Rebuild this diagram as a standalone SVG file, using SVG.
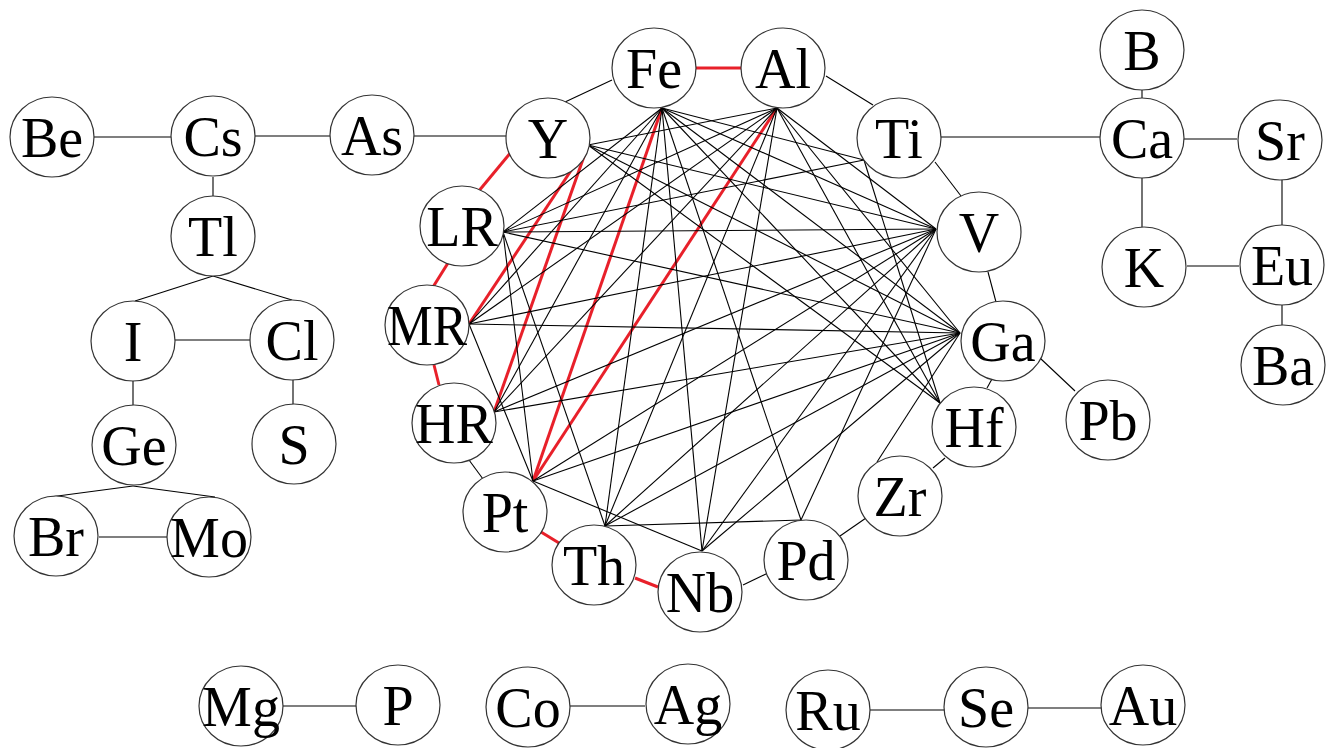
<svg xmlns="http://www.w3.org/2000/svg" width="1334" height="748" viewBox="0 0 1334 748">
<style>
.n ellipse{fill:#fff;stroke:#333;stroke-width:1.2}
.n text{font-family:"Liberation Serif","Times New Roman",serif;font-size:56px;text-anchor:middle;fill:#000}
.e line{stroke:#000;stroke-width:1.1}
.e line.r{stroke:#e8202a;stroke-width:3}
</style>
<rect width="1334" height="748" fill="#fff"/>
<g class="e" id="connectors">
<line x1="93" y1="137" x2="172" y2="137"/>
<line x1="255" y1="136" x2="330" y2="136"/>
<line x1="413" y1="136" x2="506" y2="136"/>
<line x1="213" y1="177" x2="213" y2="197"/>
<line x1="213" y1="276" x2="135" y2="301"/>
<line x1="213" y1="276" x2="292" y2="300"/>
<line x1="175" y1="340" x2="251" y2="340"/>
<line x1="133" y1="380" x2="133" y2="405"/>
<line x1="293" y1="380" x2="293" y2="405"/>
<line x1="133" y1="486" x2="50" y2="497"/>
<line x1="133" y1="486" x2="215" y2="497"/>
<line x1="99" y1="537" x2="167" y2="537"/>
<line x1="612" y1="80" x2="565" y2="102"/>
<line class="r" x1="695" y1="68" x2="741" y2="68"/>
<line x1="826" y1="76" x2="873" y2="105"/>
<line x1="941" y1="137" x2="1100" y2="137"/>
<line x1="935" y1="162" x2="961" y2="196"/>
<line x1="988" y1="272" x2="996" y2="302"/>
<line x1="992" y1="379" x2="987" y2="388"/>
<line x1="1040" y1="358" x2="1075" y2="391"/>
<line x1="945" y1="458" x2="933" y2="468"/>
<line x1="866" y1="518" x2="840" y2="536"/>
<line x1="768" y1="573" x2="743" y2="585"/>
<line class="r" x1="635" y1="578" x2="658" y2="587"/>
<line class="r" x1="541" y1="532" x2="559" y2="543"/>
<line x1="469" y1="460" x2="483" y2="479"/>
<line class="r" x1="434" y1="365" x2="439" y2="385"/>
<line class="r" x1="448" y1="263" x2="433" y2="287"/>
<line class="r" x1="478" y1="192" x2="512" y2="151"/>
<line x1="1142" y1="90" x2="1142" y2="98"/>
<line x1="1183" y1="139" x2="1237" y2="139"/>
<line x1="1142" y1="178" x2="1142" y2="227"/>
<line x1="1282" y1="180" x2="1282" y2="225"/>
<line x1="1187" y1="266" x2="1239" y2="266"/>
<line x1="1282" y1="305" x2="1282" y2="325"/>
<line x1="283" y1="706" x2="357" y2="706"/>
<line x1="570" y1="706" x2="645" y2="706"/>
<line x1="870" y1="710" x2="945" y2="710"/>
<line x1="1028" y1="708" x2="1102" y2="708"/>
<line class="r" x1="588" y1="145" x2="469" y2="324"/>
<line class="r" x1="588" y1="145" x2="494" y2="412"/>
<line class="r" x1="662" y1="108" x2="533" y2="481"/>
<line class="r" x1="777" y1="108" x2="533" y2="481"/>
<line x1="662" y1="108" x2="503" y2="232"/>
<line x1="662" y1="108" x2="469" y2="324"/>
<line x1="662" y1="108" x2="494" y2="412"/>
<line x1="662" y1="108" x2="605" y2="526"/>
<line x1="662" y1="108" x2="702" y2="551"/>
<line x1="662" y1="108" x2="801" y2="520"/>
<line x1="662" y1="108" x2="940" y2="403"/>
<line x1="662" y1="108" x2="960" y2="333"/>
<line x1="662" y1="108" x2="936" y2="229"/>
<line x1="662" y1="108" x2="864" y2="160"/>
<line x1="777" y1="108" x2="588" y2="145"/>
<line x1="777" y1="108" x2="503" y2="232"/>
<line x1="777" y1="108" x2="469" y2="324"/>
<line x1="777" y1="108" x2="494" y2="412"/>
<line x1="777" y1="108" x2="605" y2="526"/>
<line x1="777" y1="108" x2="702" y2="551"/>
<line x1="777" y1="108" x2="940" y2="403"/>
<line x1="777" y1="108" x2="960" y2="333"/>
<line x1="777" y1="108" x2="936" y2="229"/>
<line x1="936" y1="229" x2="588" y2="145"/>
<line x1="936" y1="229" x2="503" y2="232"/>
<line x1="936" y1="229" x2="469" y2="324"/>
<line x1="936" y1="229" x2="494" y2="412"/>
<line x1="936" y1="229" x2="533" y2="481"/>
<line x1="936" y1="229" x2="605" y2="526"/>
<line x1="936" y1="229" x2="702" y2="551"/>
<line x1="936" y1="229" x2="801" y2="520"/>
<line x1="960" y1="333" x2="588" y2="145"/>
<line x1="960" y1="333" x2="503" y2="232"/>
<line x1="960" y1="333" x2="469" y2="324"/>
<line x1="960" y1="333" x2="494" y2="412"/>
<line x1="960" y1="333" x2="533" y2="481"/>
<line x1="960" y1="333" x2="605" y2="526"/>
<line x1="960" y1="333" x2="702" y2="551"/>
<line x1="960" y1="333" x2="877" y2="462"/>
<line x1="503" y1="232" x2="864" y2="160"/>
<line x1="503" y1="232" x2="533" y2="481"/>
<line x1="503" y1="232" x2="605" y2="526"/>
<line x1="469" y1="324" x2="533" y2="481"/>
<line x1="533" y1="481" x2="702" y2="551"/>
<line x1="605" y1="526" x2="801" y2="520"/>
<line x1="864" y1="160" x2="940" y2="403"/>
<line x1="588" y1="145" x2="940" y2="403"/>
</g>
<g class="n" id="n-Be"><ellipse cx="52" cy="137" rx="42" ry="40"/><text x="52" y="157">Be</text></g>
<g class="n" id="n-Cs"><ellipse cx="213" cy="136" rx="42" ry="40"/><text x="213" y="156">Cs</text></g>
<g class="n" id="n-As"><ellipse cx="372" cy="135" rx="42" ry="40"/><text x="372" y="155">As</text></g>
<g class="n" id="n-Tl"><ellipse cx="213" cy="236" rx="42" ry="40"/><text x="213" y="256">Tl</text></g>
<g class="n" id="n-I"><ellipse cx="133" cy="341" rx="42" ry="40"/><text x="133" y="361">I</text></g>
<g class="n" id="n-Cl"><ellipse cx="292" cy="340" rx="42" ry="40"/><text x="292" y="360">Cl</text></g>
<g class="n" id="n-Ge"><ellipse cx="134" cy="445" rx="42" ry="40"/><text x="134" y="465">Ge</text></g>
<g class="n" id="n-S"><ellipse cx="294" cy="444" rx="42" ry="40"/><text x="294" y="464">S</text></g>
<g class="n" id="n-Br"><ellipse cx="56" cy="536" rx="42" ry="40"/><text x="56" y="556">Br</text></g>
<g class="n" id="n-Mo"><ellipse cx="209" cy="537" rx="42" ry="40"/><text x="209" y="557">Mo</text></g>
<g class="n" id="n-Y"><ellipse cx="548" cy="138" rx="42" ry="40"/><text x="548" y="158">Y</text></g>
<g class="n" id="n-Fe"><ellipse cx="654" cy="68" rx="42" ry="40"/><text x="654" y="88">Fe</text></g>
<g class="n" id="n-Al"><ellipse cx="783" cy="68" rx="42" ry="40"/><text x="783" y="88">Al</text></g>
<g class="n" id="n-Ti"><ellipse cx="899" cy="138" rx="42" ry="40"/><text x="899" y="158">Ti</text></g>
<g class="n" id="n-V"><ellipse cx="979" cy="232" rx="42" ry="40"/><text x="979" y="252">V</text></g>
<g class="n" id="n-Ga"><ellipse cx="1003" cy="341" rx="42" ry="40"/><text x="1003" y="361">Ga</text></g>
<g class="n" id="n-Hf"><ellipse cx="974" cy="427" rx="42" ry="40"/><text x="974" y="447">Hf</text></g>
<g class="n" id="n-Zr"><ellipse cx="900" cy="496" rx="42" ry="40"/><text x="900" y="516">Zr</text></g>
<g class="n" id="n-Pd"><ellipse cx="806" cy="560" rx="42" ry="40"/><text x="806" y="580">Pd</text></g>
<g class="n" id="n-Nb"><ellipse cx="700" cy="592" rx="42" ry="40"/><text x="700" y="612">Nb</text></g>
<g class="n" id="n-Th"><ellipse cx="594" cy="565" rx="42" ry="40"/><text x="594" y="585">Th</text></g>
<g class="n" id="n-Pt"><ellipse cx="505" cy="512" rx="42" ry="40"/><text x="505" y="532">Pt</text></g>
<g class="n" id="n-HR"><ellipse cx="454" cy="423" rx="42" ry="40"/><text x="454" y="443">HR</text></g>
<g class="n" id="n-MR"><ellipse cx="427" cy="325" rx="42" ry="40"/><text x="427" y="345" textLength="80" lengthAdjust="spacingAndGlyphs">MR</text></g>
<g class="n" id="n-LR"><ellipse cx="462" cy="226" rx="42" ry="40"/><text x="462" y="246">LR</text></g>
<g class="n" id="n-B"><ellipse cx="1142" cy="50" rx="42" ry="40"/><text x="1142" y="70">B</text></g>
<g class="n" id="n-Ca"><ellipse cx="1142" cy="138" rx="42" ry="40"/><text x="1142" y="158">Ca</text></g>
<g class="n" id="n-Sr"><ellipse cx="1280" cy="140" rx="42" ry="40"/><text x="1280" y="160">Sr</text></g>
<g class="n" id="n-K"><ellipse cx="1144" cy="267" rx="42" ry="40"/><text x="1144" y="287">K</text></g>
<g class="n" id="n-Eu"><ellipse cx="1282" cy="265" rx="42" ry="40"/><text x="1282" y="285">Eu</text></g>
<g class="n" id="n-Ba"><ellipse cx="1283" cy="365" rx="42" ry="40"/><text x="1283" y="385">Ba</text></g>
<g class="n" id="n-Pb"><ellipse cx="1108" cy="420" rx="42" ry="40"/><text x="1108" y="440">Pb</text></g>
<g class="n" id="n-Mg"><ellipse cx="241" cy="706" rx="42" ry="40"/><text x="241" y="726">Mg</text></g>
<g class="n" id="n-P"><ellipse cx="398" cy="705" rx="42" ry="40"/><text x="398" y="725">P</text></g>
<g class="n" id="n-Co"><ellipse cx="528" cy="707" rx="42" ry="40"/><text x="528" y="727">Co</text></g>
<g class="n" id="n-Ag"><ellipse cx="688" cy="704" rx="42" ry="40"/><text x="688" y="724">Ag</text></g>
<g class="n" id="n-Ru"><ellipse cx="828" cy="710" rx="42" ry="40"/><text x="828" y="730">Ru</text></g>
<g class="n" id="n-Se"><ellipse cx="986" cy="707" rx="42" ry="40"/><text x="986" y="727">Se</text></g>
<g class="n" id="n-Au"><ellipse cx="1143" cy="705" rx="42" ry="40"/><text x="1143" y="725">Au</text></g>
</svg>
